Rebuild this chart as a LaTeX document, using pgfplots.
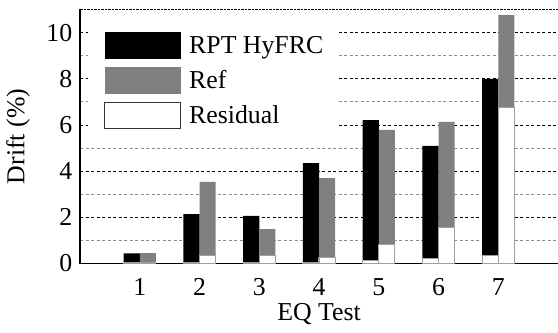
\documentclass[border=0pt]{standalone}
\usepackage{fontspec}
\setmainfont{Liberation Serif}
\usepackage{pgfplots}
\pgfplotsset{compat=1.18}
\definecolor{refgray}{HTML}{808080}
\definecolor{resedge}{HTML}{A0A0A0}
\definecolor{mingrid}{HTML}{8C8C8C}
\newcommand{\fs}{\fontsize{25.8bp}{31bp}\selectfont}
\begin{document}
\begin{tikzpicture}
\begin{axis}[
  name=ax,
  scale only axis,
  width=478bp, height=254bp,
  xmin=0, xmax=8, ymin=0, ymax=11,
  axis x line*=bottom, axis y line*=left,
  axis line style={line width=1.5bp},
  xtick={1,2,3,4,5,6,7},
  xticklabels={1,2,3,4,5,6,7},
  ytick={0,2,4,6,8,10},
  yticklabels={0,2,4,6,8,10},
  minor ytick={1,3,5,7,9},
  ymajorgrids, yminorgrids,
  major grid style={black, line width=0.8bp, dash pattern=on 3bp off 2.5bp},
  minor grid style={mingrid, line width=0.8bp, dash pattern=on 3bp off 2.5bp},
  extra y ticks={11}, extra y tick labels={},
  extra y tick style={major grid style={black, line width=1.5bp, dash pattern=on 2.5bp off 1bp}},
  major tick length=0pt, minor tick length=0pt,
  tick label style={font=\fs},
  xticklabel style={anchor=base, yshift=-31.5bp},
  yticklabel style={inner sep=0pt, xshift=-7.5bp},
  xlabel={EQ Test}, ylabel={Drift (\%)},
  every axis x label/.style={font=\fs, at={([yshift=-56.5bp]axis description cs:0.5,0)}, anchor=base},
  every axis y label/.style={font=\fs, at={([xshift=-62bp]axis description cs:0,0.5)}, rotate=90, anchor=center},
  legend style={font=\fs, draw=none, fill=white, at={(axis description cs:0,1)}, anchor=north west,
    xshift=8bp, yshift=-12.8bp, inner xsep=16bp, inner ysep=10bp, row sep=7.9bp, column sep=8bp,
    nodes={inner sep=0pt}, cells={anchor=west}},
  legend cell align=left,
]
\addplot[ybar, bar width=0.27, bar shift=-0.135, fill=black, draw=none,
  legend image code/.code={\fill[black] (0bp,-13.35bp) rectangle (76bp,13.35bp);}]
  coordinates {(1,0.44) (2,2.14) (3,2.06) (4,4.35) (5,6.21) (6,5.09) (7,8.00)};
\addlegendentry{RPT HyFRC}
\addplot[ybar, bar width=0.27, bar shift=0.135, fill=refgray, draw=none,
  legend image code/.code={\fill[refgray] (0bp,-13.35bp) rectangle (76bp,13.35bp);}]
  coordinates {(1,0.45) (2,3.53) (3,1.49) (4,3.70) (5,5.79) (6,6.13) (7,10.76)};
\addlegendentry{Ref}
\addplot[ybar, bar width=0.27, bar shift=0.135, fill=white, draw=resedge, line width=1.2bp,
  legend image code/.code={\draw[black!80, fill=white, line width=1bp] (0bp,-13.35bp) rectangle (76bp,13.35bp);}]
  coordinates {(1,0.05) (2,0.34) (3,0.34) (4,0.27) (5,0.81) (6,1.57) (7,6.74)};
\addlegendentry{Residual}
\addplot[ybar, bar width=0.27, bar shift=-0.135, fill=white, draw=resedge, line width=1.2bp, forget plot]
  coordinates {(1,0.04) (2,0.04) (3,0.04) (4,0.05) (5,0.12) (6,0.20) (7,0.34)};
\end{axis}
\pgfresetboundingbox
\path[use as bounding box] ([xshift=-80bp,yshift=-68.5bp]ax.south west) rectangle ([yshift=9.5bp]ax.north east);
\end{tikzpicture}
\end{document}
